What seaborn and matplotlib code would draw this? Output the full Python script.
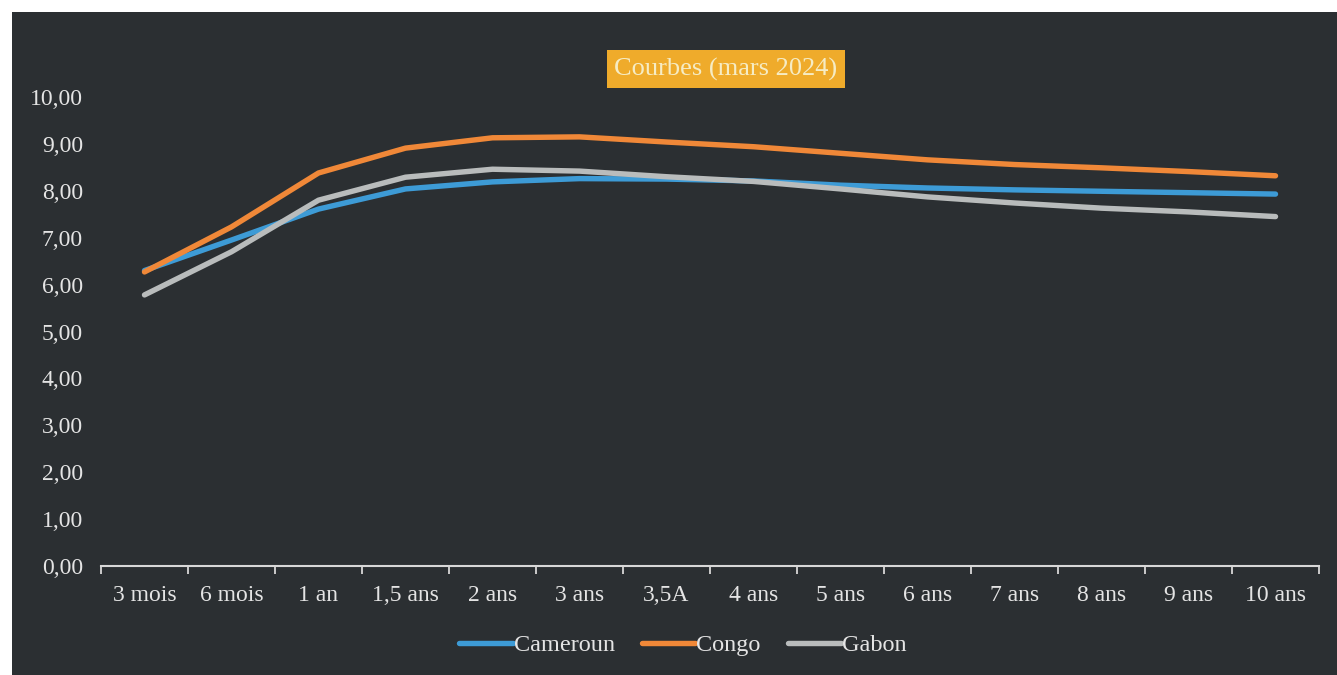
import matplotlib
matplotlib.use("Agg")
import matplotlib.pyplot as plt
import matplotlib.ticker as mticker
from matplotlib.patches import Rectangle
import numpy as np
import pandas as pd
import seaborn as sns

maturities = ["3 mois", "6 mois", "1 an", "1,5 ans", "2 ans", "3 ans", "3,5A",
              "4 ans", "5 ans", "6 ans", "7 ans", "8 ans", "9 ans", "10 ans"]
cameroun = [6.30, 6.95, 7.61, 8.04, 8.19, 8.26, 8.25, 8.21, 8.12, 8.06, 8.02, 7.99, 7.96, 7.93]
congo = [6.27, 7.23, 8.38, 8.91, 9.13, 9.15, 9.04, 8.94, 8.80, 8.66, 8.56, 8.49, 8.41, 8.32]
gabon = [5.78, 6.70, 7.80, 8.29, 8.46, 8.42, 8.30, 8.20, 8.04, 7.87, 7.74, 7.63, 7.55, 7.45]
countries = ["Cameroun", "Congo", "Gabon"]
colors = {"Cameroun": "#3d9bd6", "Congo": "#f08838", "Gabon": "#b9bcbc"}

df = pd.concat([
    pd.DataFrame({"maturite": maturities, "taux": vals, "pays": name})
    for name, vals in zip(countries, [cameroun, congo, gabon])
], ignore_index=True)

bg = "#2b2f32"
txt = "#e4e4e4"
plt.rcParams["font.family"] = ["Liberation Serif", "DejaVu Serif"]

fig = plt.figure(figsize=(13.37, 6.75), dpi=100, facecolor="white")
# scanned page: white margin top/left, dark chart area
fig.patches.append(Rectangle((12 / 1337, 0), 1, 1 - 12 / 675, transform=fig.transFigure,
                             facecolor=bg, edgecolor="none", zorder=-10))
ax = fig.add_axes([101 / 1337, 1 - 566 / 675, (1319 - 101) / 1337, (566 - 97) / 675])
ax.set_facecolor("none")
ax.set_zorder(1)

sns.lineplot(data=df, x="maturite", y="taux", hue="pays", palette=colors, sort=False,
             linewidth=3.9, ax=ax, legend=False)
for line in ax.lines:
    line.set_solid_capstyle("round")

ax.set_xlim(-0.5, len(maturities) - 0.5)
ax.set_ylim(0, 10)
ax.yaxis.set_major_locator(mticker.MultipleLocator(1))
ax.yaxis.set_major_formatter(mticker.FuncFormatter(lambda v, p: f"{v:.2f}".replace(".", ",")))
ax.set_xticks(range(len(maturities)))
ax.set_xticklabels(maturities)
ax.set_xticks(np.arange(-0.5, len(maturities)), minor=True)
ax.tick_params(axis="x", which="major", length=0, pad=14, labelsize=17, labelcolor=txt)
ax.tick_params(axis="x", which="minor", length=6, width=1.3, color="#d8d8d8")
ax.tick_params(axis="y", length=0, pad=13, labelsize=17, labelcolor=txt)
for s in ["top", "right", "left"]:
    ax.spines[s].set_visible(False)
ax.spines["bottom"].set_color("#d8d8d8")
ax.spines["bottom"].set_linewidth(1.5)
ax.set_xlabel("")
ax.set_ylabel("")

fig.text(726 / 1337, 1 - 69 / 675, "Courbes (mars 2024)", ha="center", va="center",
         fontsize=19, color="#f6ecc4",
         bbox=dict(boxstyle="square,pad=0.3", facecolor="#efab2b", edgecolor="none"))

handles = [plt.Line2D([], [], color=colors[c], linewidth=3.9, solid_capstyle="round") for c in countries]
fig.legend(handles, countries, loc="center", bbox_to_anchor=(683 / 1337, 1 - 645 / 675),
           ncol=3, frameon=False, fontsize=17.5, labelcolor=txt, handlelength=2.2,
           handletextpad=0.05, columnspacing=1.1)

fig.savefig("out.png", dpi=100, facecolor=fig.get_facecolor())
